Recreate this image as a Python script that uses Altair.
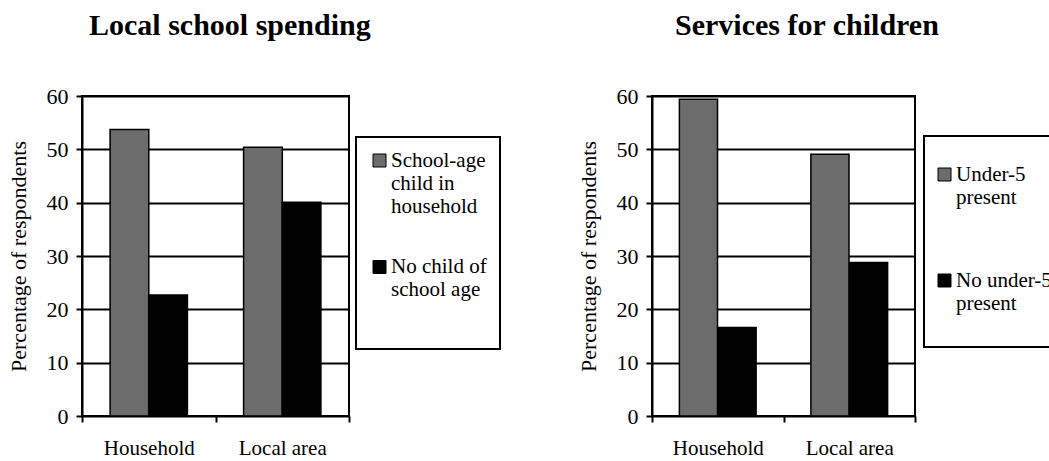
import altair as alt
import pandas as pd

categories = ["Household", "Local area"]
y_ticks = [0, 10, 20, 30, 40, 50, 60]
y_title = "Percentage of respondents"

left_title = "Local school spending"
left_series = ["School-age child in household", "No child of school age"]
left_lines = [["School-age", "child in", "household"], ["No child of", "school age"]]
left_first = [53.7, 50.4]
left_second = [22.7, 40.1]

right_title = "Services for children"
right_series = ["Under-5 present", "No under-5 present"]
right_lines = [["Under-5", "present"], ["No under-5", "present", ""]]
right_first = [59.4, 49.1]
right_second = [16.6, 28.8]

FONT = "Liberation Serif"
GRAY = "#6c6c6c"


def panel(title, series, lines, first, second, width, title_dx, legend):
    rows = []
    for c, a, b in zip(categories, first, second):
        rows.append({"area": c, "group": series[0], "value": a})
        rows.append({"area": c, "group": series[1], "value": b})
    df = pd.DataFrame(rows)
    expr = f"datum.label == {series[0]!r} ? {lines[0]!r} : {lines[1]!r}"

    x_enc = alt.X(
        "area:N",
        sort=categories,
        title=None,
        scale=alt.Scale(paddingInner=0, paddingOuter=0),
        axis=alt.Axis(
            labelAngle=0,
            tickBand="extent",
            tickSize=6,
            tickWidth=2,
            tickColor="black",
            domain=False,
            labelPadding=15,
            labelFont=FONT,
            labelFontSize=21,
            labelColor="black",
        ),
    )
    y_enc = alt.Y(
        "value:Q",
        scale=alt.Scale(domain=[0, 60], nice=False),
        axis=alt.Axis(
            values=y_ticks,
            title=y_title,
            titleFont=FONT,
            titleFontSize=22,
            titleFontWeight="normal",
            titleColor="black",
            titlePadding=16,
            grid=True,
            gridColor="black",
            gridWidth=2,
            gridOpacity=1,
            tickSize=6,
            tickWidth=2,
            tickColor="black",
            domainColor="black",
            domainWidth=2,
            labelFont=FONT,
            labelFontSize=22,
            labelColor="black",
            labelPadding=8,
        ),
    )
    c_enc = alt.Color(
        "group:N",
        sort=series,
        scale=alt.Scale(domain=series, range=[GRAY, "#000000"]),
        legend=alt.Legend(
            orient="none",
            legendX=legend["x"],
            legendY=legend["y"],
            title=" ",
            titleOrient=legend["torient"],
            titleFontSize=legend["tsize"],
            titlePadding=legend["tpad"],
            symbolType="square",
            symbolSize=169,
            symbolStrokeColor="black",
            symbolStrokeWidth=1,
            symbolOpacity=1,
            labelFont=FONT,
            labelFontSize=21,
            labelColor="black",
            labelLimit=300,
            labelOffset=1,
            labelExpr=expr,
            rowPadding=legend["row"],
            padding=legend["pad"],
            strokeColor="black",
            fillColor="white",
        ),
    )

    base = alt.Chart(df)
    first_bars = (
        base.transform_filter(alt.datum.group == series[0])
        .mark_bar(stroke="black", strokeWidth=1.5, width=alt.RelativeBandSize(0.29), xOffset=-19.3)
        .encode(x=x_enc, y=y_enc, color=c_enc)
    )
    second_bars = (
        base.transform_filter(alt.datum.group == series[1])
        .mark_bar(stroke="black", strokeWidth=1.5, width=alt.RelativeBandSize(0.29), xOffset=19.3)
        .encode(x=alt.X("area:N", sort=categories), y=alt.Y("value:Q"), color=alt.Color("group:N"))
    )
    return alt.layer(first_bars, second_bars).properties(
        width=width,
        height=320,
        title=alt.TitleParams(
            title,
            anchor="start",
            frame="group",
            dx=title_dx,
            font=FONT,
            fontSize=30,
            fontWeight="bold",
            color="black",
            offset=44,
        ),
    )


left = panel(
    left_title, left_series, left_lines, left_first, left_second, 267, 7,
    {"x": 274, "y": 41, "row": 38.5, "pad": 13, "tsize": 10, "tpad": 26, "torient": "bottom"},
)
right = panel(
    right_title, right_series, right_lines, right_first, right_second, 263, 23,
    {"x": 272, "y": 40, "row": 61, "pad": 10, "tsize": 6, "tpad": 12, "torient": "top"},
)

chart = (
    alt.hconcat(left, right, spacing=74)
    .resolve_scale(color="independent")
    .configure_view(stroke="black", strokeWidth=2)
    .configure_legend(strokeWidth=2)
    .properties(padding={"left": 6, "top": 10, "right": -15, "bottom": 0})
)

chart.save("out.html", embed_options={"renderer": "svg", "actions": False})
